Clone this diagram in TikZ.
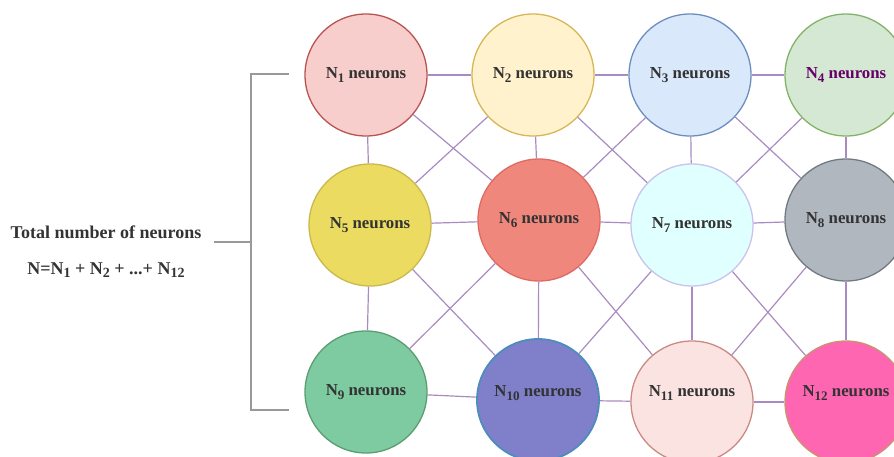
\documentclass[tikz,border=0pt]{standalone}
\usepackage{fontspec}
\setmainfont{Liberation Serif}
\newcommand{\nsub}[1]{\raisebox{-0.45ex}{\fontsize{0.78em}{1em}\selectfont #1}}
\definecolor{edgecol}{HTML}{A98BC2}
\definecolor{bracketcol}{HTML}{999999}
\definecolor{txtcol}{HTML}{333333}
\definecolor{plum}{HTML}{660066}
% fill and outline of each neuron group
\definecolor{fA}{HTML}{F8CECC}\definecolor{dA}{HTML}{B85450}
\definecolor{fB}{HTML}{FFF2CC}\definecolor{dB}{HTML}{D6B656}
\definecolor{fC}{HTML}{DAE8FC}\definecolor{dC}{HTML}{6C8EBF}
\definecolor{fD}{HTML}{D5E8D4}\definecolor{dD}{HTML}{82B366}
\definecolor{fE}{HTML}{EBDB61}\definecolor{dE}{HTML}{CBB84A}
\definecolor{fF}{HTML}{F0877D}\definecolor{dF}{HTML}{DF6A62}
\definecolor{fG}{HTML}{E0FFFF}\definecolor{dG}{HTML}{C9C3EE}
\definecolor{fH}{HTML}{B0B7BF}\definecolor{dH}{HTML}{717A83}
\definecolor{fI}{HTML}{7ECBA1}\definecolor{dI}{HTML}{5B9D70}
\definecolor{fJ}{HTML}{7F7FCA}\definecolor{dJ}{HTML}{4E8DBB}
\definecolor{fK}{HTML}{FBE3E2}\definecolor{dK}{HTML}{C98A83}
\definecolor{fL}{HTML}{FF66B2}\definecolor{dL}{HTML}{C9936F}
\tikzset{
  neuron/.style={circle, minimum size=122pt, inner sep=0pt, line width=1.3pt},
  lbl/.style={font=\fontsize{16.8}{18}\selectfont\bfseries, text=txtcol, inner sep=0pt},
  sidelbl/.style={font=\fontsize{18}{20}\selectfont\bfseries, text=txtcol, inner sep=0pt},
  link/.style={draw=edgecol, line width=1.2pt},
  bracket/.style={draw=bracketcol, line width=1.4pt}
}
\begin{document}
\begin{tikzpicture}[x=1pt, y=-1pt]
\useasboundingbox (0,0) rectangle (894,456);
\clip (0,0) rectangle (894,456);

% grid of neuron groups
\node[neuron, fill=fA, draw=dA] (n1) at (366,75) {};
\node[neuron, fill=fB, draw=dB] (n2) at (533,75) {};
\node[neuron, fill=fC, draw=dC] (n3) at (690,75) {};
\node[neuron, fill=fD, draw=dD] (n4) at (846,75) {};
\node[neuron, fill=fE, draw=dE] (n5) at (370,225) {};
\node[neuron, fill=fF, draw=dF] (n6) at (539,220) {};
\node[neuron, fill=fG, draw=dG] (n7) at (692,225) {};
\node[neuron, fill=fH, draw=dH] (n8) at (846,220) {};
\node[neuron, fill=fI, draw=dI] (n9) at (366,392) {};
\node[neuron, fill=fJ, draw=dJ, line width=1.8pt] (n10) at (538,400) {};
\node[neuron, fill=fK, draw=dK] (n11) at (692,402) {};
\node[neuron, fill=fL, draw=dL] (n12) at (846,402) {};

% labels
\node[lbl] (t1) at (n1) {N\nsub{1} neurons};
\node[lbl] (t2) at (n2) {N\nsub{2} neurons};
\node[lbl] (t3) at (n3) {N\nsub{3} neurons};
\node[lbl, text=plum] (t4) at (n4) {N\nsub{4} neurons};
\node[lbl] (t5) at (n5) {N\nsub{5} neurons};
\node[lbl] (t6) at (n6) {N\nsub{6} neurons};
\node[lbl] (t7) at (n7) {N\nsub{7} neurons};
\node[lbl] (t8) at (n8) {N\nsub{8} neurons};
\node[lbl] (t9) at (n9) {N\nsub{9} neurons};
\node[lbl] (t10) at (538,393) {N\nsub{10} neurons};
\node[lbl] (t11) at (692,393) {N\nsub{11} neurons};
\node[lbl] (t12) at (846,393) {N\nsub{12} neurons};

% rows
\draw[link] (n1) -- (n2); \draw[link] (n2) -- (n3); \draw[link] (n3) -- (n4);
\draw[link] (n5) -- (n6); \draw[link] (n6) -- (n7); \draw[link] (n7) -- (n8);
\draw[link] (n9) -- (n10); \draw[link] (n10) -- (n11); \draw[link] (n11) -- (n12);
% columns
\draw[link] (n1) -- (n5); \draw[link] (n2) -- (n6); \draw[link] (n3) -- (n7); \draw[link] (n4) -- (n8);
\draw[link] (n5) -- (n9); \draw[link] (n6) -- (n10); \draw[link] (n7) -- (n11); \draw[link] (n8) -- (n12);
% diagonals
\draw[link] (n1) -- (n6); \draw[link] (n2) -- (n5);
\draw[link] (n2) -- (n7); \draw[link] (n3) -- (n6);
\draw[link] (n3) -- (n8); \draw[link] (n4) -- (n7);
\draw[link] (n5) -- (n10); \draw[link] (n6) -- (n9);
\draw[link] (n6) -- (n11); \draw[link] (n7) -- (n10);
\draw[link] (n7) -- (n12); \draw[link] (n8) -- (n11);

% total count and bracket
\node[sidelbl] (total) at (106,232) {Total number of neurons};
\node[sidelbl] (sum) at (106,270) {N=N\nsub{1} + N\nsub{2} + ...+ N\nsub{12}};
\coordinate (btop) at (289,74);
\coordinate (bbot) at (289,410);
\coordinate (bmid) at (214,242);
\draw[bracket] (btop) -- (251,74) -- (251,410) -- (bbot);
\draw[bracket] (bmid) -- (251,242);
\end{tikzpicture}
\end{document}
